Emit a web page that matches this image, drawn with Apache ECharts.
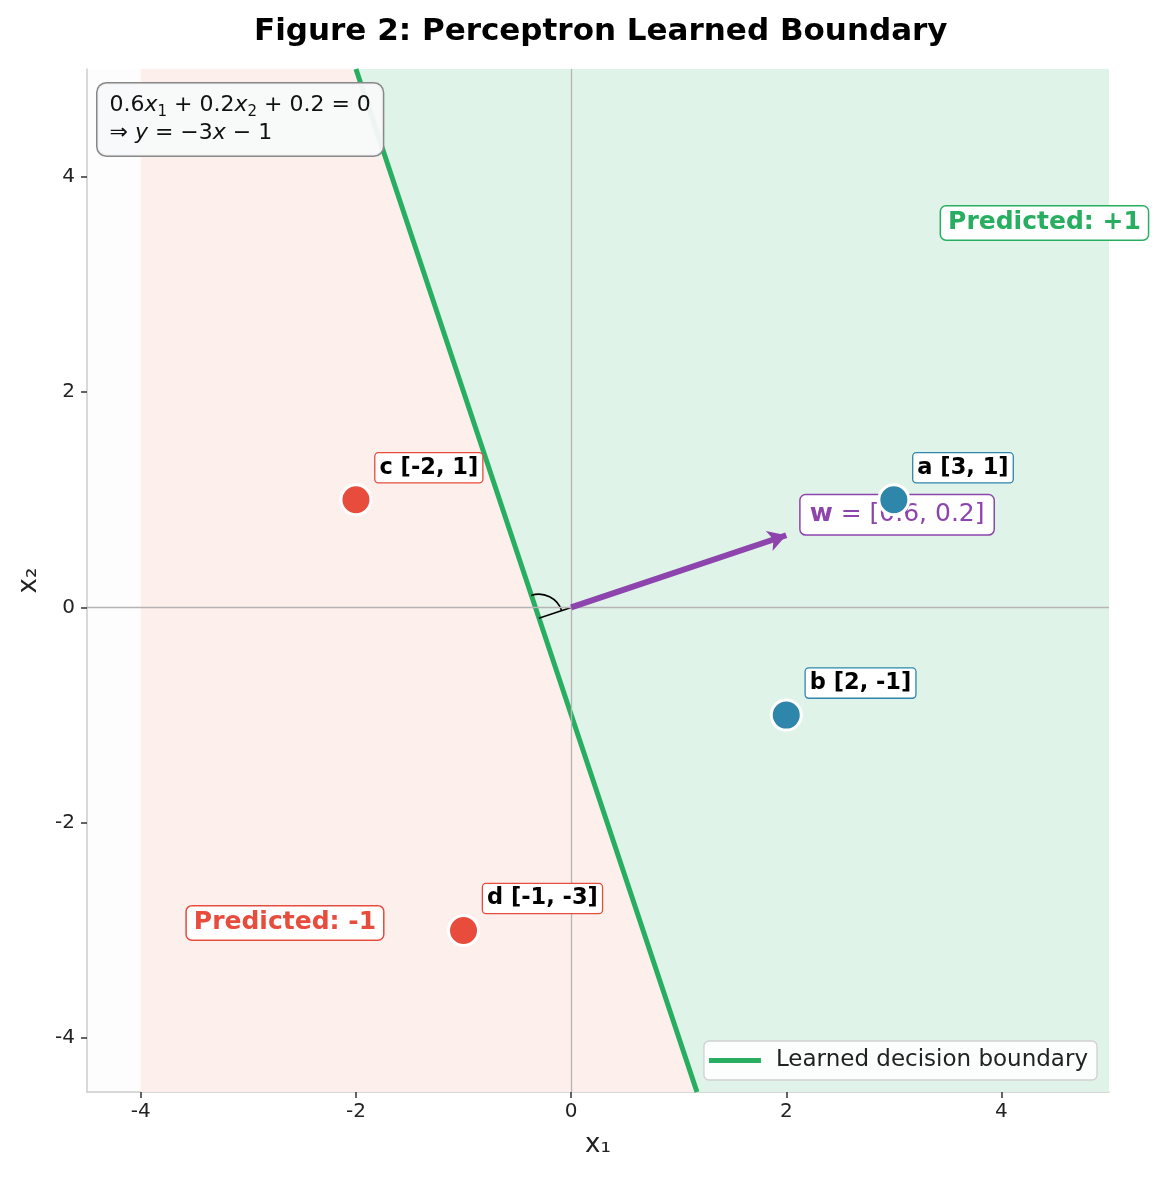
<!DOCTYPE html>
<html>
<head>
<meta charset="utf-8">
<title>Perceptron Learned Boundary</title>
<script src="https://cdn.jsdelivr.net/npm/echarts@6/dist/echarts.min.js"></script>
<style>
html, body { margin: 0; padding: 0; background: #fff; }
#chart { width: 1155px; height: 1178px; }
</style>
</head>
<body>
<div id="chart"></div>
<script>
// 数据
var xTicks = [-4, -2, 0, 2, 4];
var yTicks = [-4, -2, 0, 2, 4];
var pointNames = ['a', 'b', 'c', 'd'];
var pointX = [3, 2, -2, -1];
var pointY = [1, -1, 1, -3];
var pointClass = [1, 1, -1, -1];
var boundaryX = [-2, 1.17];
var boundaryY = [5, -4.5];
var negRegion = [[-4, 5], [-2, 5], [1.17, -4.5], [-4, -4.5]];
var posRegion = [[-2, 5], [5, 5], [5, -4.5], [1.17, -4.5]];
var weight = [0.6, 0.2];
var bias = 0.2;
var arrowEnd = [2, 0.67];
var footPoint = [-0.3, -0.1];
var predictedPos = [[4.4, 3.57], [-2.66, -2.93]];
var wLabelPos = [3.03, 0.86];

var FONT = 'DejaVu Sans';
var GREEN = '#27ae60', RED = '#e74c3c', BLUE = '#2e86ab', PURPLE = '#8e44ad';

var chart = echarts.init(document.getElementById('chart'));

var option = {
    animation: false,
    backgroundColor: '#fff',
    title: {
        text: 'Figure 2: Perceptron Learned Boundary',
        left: 249,
        top: 11,
        textStyle: { fontFamily: FONT, fontSize: 31, fontWeight: 'bold', color: '#000' }
    },
    grid: {
        left: 87, right: 46, top: 69, bottom: 86,
        show: true, backgroundColor: '#fdfdfd', borderWidth: 0
    },
    legend: {
        data: [{ name: 'Learned decision boundary', icon: 'rect' }],
        right: 58,
        bottom: 98,
        itemWidth: 52,
        itemHeight: 5,
        padding: [8, 9, 8, 5],
        backgroundColor: 'rgba(255,255,255,0.85)',
        borderColor: '#d0d0d0',
        borderWidth: 1.3,
        borderRadius: 5,
        textStyle: { fontFamily: FONT, fontSize: 23, color: '#222', padding: [0, 0, 0, 10] }
    },
    xAxis: {
        type: 'value', min: -4.5, max: 5,
        name: 'x\u2081', nameLocation: 'middle', nameGap: 40,
        nameTextStyle: { fontFamily: FONT, fontSize: 26, color: '#222' },
        axisLine: { show: true, onZero: false, lineStyle: { color: '#cccccc', width: 1.5 } },
        axisTick: { show: true, customValues: xTicks, length: 6, lineStyle: { color: '#333', width: 1.5 } },
        axisLabel: { customValues: xTicks, fontFamily: FONT, fontSize: 20, color: '#222', margin: 10 },
        splitLine: { show: false }
    },
    yAxis: {
        type: 'value', min: -4.5, max: 5,
        name: 'x\u2082', nameLocation: 'middle', nameGap: 45,
        nameTextStyle: { fontFamily: FONT, fontSize: 26, color: '#222' },
        axisLine: { show: true, onZero: false, lineStyle: { color: '#cccccc', width: 1.5 } },
        axisTick: { show: true, customValues: yTicks, length: 6, lineStyle: { color: '#333', width: 1.5 } },
        axisLabel: { customValues: yTicks, fontFamily: FONT, fontSize: 20, color: '#222', margin: 12 },
        splitLine: { show: false }
    },
    graphic: [{
        type: 'text',
        left: 96,
        top: 82,
        z: 100,
        style: {
            text: weight[0] + '{i|x}{s|1} + ' + weight[1] + '{i|x}{s|2} + ' + bias + ' = 0\n\u21d2 {i|y} = \u22123{i|x} \u2212 1',
            fontFamily: FONT,
            fontSize: 22,
            lineHeight: 28,
            fill: '#111',
            rich: {
                i: { fontFamily: FONT, fontSize: 22, fontStyle: 'italic', lineHeight: 28, color: '#111' },
                s: { fontFamily: FONT, fontSize: 15, lineHeight: 20, verticalAlign: 'bottom', color: '#111' }
            },
            backgroundColor: 'rgba(248,249,250,0.95)',
            borderColor: '#888',
            borderWidth: 1.5,
            borderRadius: 9,
            padding: [8, 12]
        }
    }],
    series: [
        // 预测区域
        {
            type: 'custom',
            z: 1,
            silent: true,
            data: [[0, 0], [1, 1]],
            renderItem: function (params, api) {
                var poly = params.dataIndex === 0 ? negRegion : posRegion;
                return {
                    type: 'polygon',
                    shape: { points: poly.map(function (p) { return api.coord(p); }) },
                    style: { fill: params.dataIndex === 0 ? '#fcefec' : '#e0f3e8' }
                };
            }
        },
        // 零线
        {
            type: 'line',
            z: 2,
            data: [],
            markLine: {
                silent: true,
                symbol: 'none',
                label: { show: false },
                lineStyle: { color: '#b5b5b5', width: 1.3, type: 'solid' },
                data: [{ xAxis: 0 }, { yAxis: 0 }]
            }
        },
        {
            name: 'Learned decision boundary',
            type: 'line',
            z: 3,
            symbol: 'none',
            data: boundaryX.map(function (x, i) { return [x, boundaryY[i]]; }),
            lineStyle: { color: GREEN, width: 5 },
            itemStyle: { color: GREEN }
        },
        // 直角标记
        {
            type: 'custom',
            z: 4,
            silent: true,
            data: [footPoint],
            renderItem: function (params, api) {
                var f = api.coord(footPoint);
                var o = api.coord([0, 0]);
                var top = api.coord([boundaryX[0], boundaryY[0]]);
                var a1 = Math.atan2(top[1] - f[1], top[0] - f[0]);
                var a2 = Math.atan2(o[1] - f[1], o[0] - f[0]);
                return {
                    type: 'group',
                    children: [{
                        type: 'line',
                        shape: { x1: f[0], y1: f[1], x2: o[0], y2: o[1] },
                        style: { stroke: '#000', lineWidth: 1.6 }
                    }, {
                        type: 'arc',
                        shape: { cx: f[0], cy: f[1], r: 24, startAngle: a1, endAngle: a2, clockwise: true },
                        style: { stroke: '#000', lineWidth: 1.6, fill: null }
                    }]
                };
            }
        },
        // w 向量
        {
            type: 'line',
            z: 4,
            data: [],
            markLine: {
                silent: true,
                symbol: ['none', 'arrow'],
                symbolSize: [16, 18],
                label: { show: false },
                lineStyle: { color: PURPLE, width: 6, type: 'solid' },
                data: [[{ coord: [0, 0] }, { coord: arrowEnd }]]
            }
        },
        {
            type: 'scatter',
            z: 4,
            silent: true,
            symbolSize: 0,
            itemStyle: { opacity: 1 },
            data: [{ value: wLabelPos }],
            label: {
                show: true,
                position: 'inside',
                formatter: '{b|w} = [' + weight[0] + ', ' + weight[1] + ']',
                fontFamily: FONT,
                fontSize: 25,
                color: PURPLE,
                rich: { b: { fontFamily: FONT, fontSize: 25, fontWeight: 'bold', color: PURPLE } },
                backgroundColor: '#fff',
                borderColor: PURPLE,
                borderWidth: 1.5,
                borderRadius: 5,
                padding: [7, 9]
            }
        },
        // 预测标签
        {
            type: 'scatter',
            z: 5,
            silent: true,
            symbolSize: 0,
            itemStyle: { opacity: 1 },
            data: [
                { value: predictedPos[0], label: { formatter: 'Predicted: +1', color: GREEN, borderColor: GREEN } },
                { value: predictedPos[1], label: { formatter: 'Predicted: -1', color: RED, borderColor: RED } }
            ],
            label: {
                show: true,
                position: 'inside',
                fontFamily: FONT,
                fontSize: 25,
                fontWeight: 'bold',
                backgroundColor: '#fff',
                borderWidth: 1.5,
                borderRadius: 5,
                padding: [4, 7]
            }
        },
        // 样本点
        {
            type: 'scatter',
            z: 6,
            symbolSize: 30,
            data: pointX.map(function (x, i) {
                var c = pointClass[i] > 0 ? BLUE : RED;
                return {
                    value: [x, pointY[i]],
                    itemStyle: { color: c },
                    label: { borderColor: c }
                };
            }),
            itemStyle: { borderColor: '#fff', borderWidth: 3, opacity: 1 },
            label: {
                show: true,
                position: [36, -30],
                align: 'left',
                verticalAlign: 'top',
                formatter: function (p) {
                    var i = p.dataIndex;
                    return pointNames[i] + ' [' + pointX[i] + ', ' + pointY[i] + ']';
                },
                fontFamily: FONT,
                fontSize: 22.5,
                fontWeight: 'bold',
                color: '#000',
                backgroundColor: '#fff',
                borderWidth: 1.3,
                borderRadius: 3,
                padding: [3, 4]
            }
        }
    ]
};

chart.setOption(option);
</script>
</body>
</html>
